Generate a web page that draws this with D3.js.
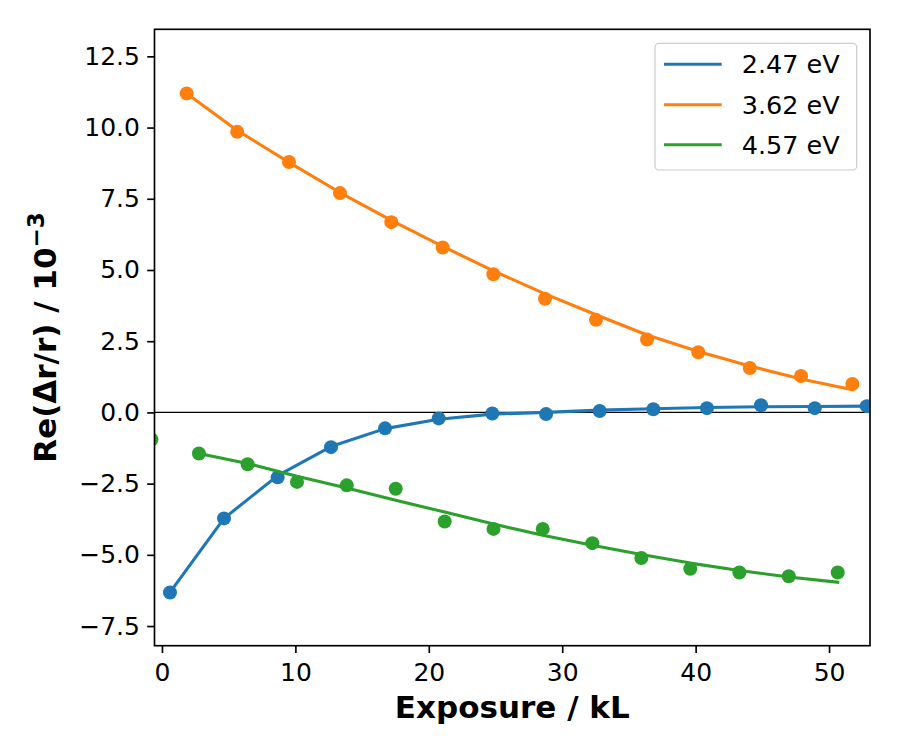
<!DOCTYPE html>
<html>
<head>
<meta charset="utf-8">
<script src="https://cdn.jsdelivr.net/npm/d3@7"></script>
<style>
  body { margin: 0; background: #fff; }
  svg { font-family: "DejaVu Sans", sans-serif; }
</style>
</head>
<body>
<svg id="chart" width="900" height="750"></svg>
<script>
// ---- data ----
const seriesLabels = ["2.47 eV", "3.62 eV", "4.57 eV"];
const seriesColors = ["#1f77b4", "#ff7f0e", "#2ca02c"];

const blueX = [0.6, 4.65, 8.67, 12.67, 16.72, 20.74, 24.76, 28.79, 32.81, 36.83, 40.85, 44.9, 48.93, 52.83];
const blueY = [-6.32, -3.72, -2.28, -1.22, -0.56, -0.21, -0.04, -0.06, 0.05, 0.11, 0.15, 0.25, 0.15, 0.22];
const blueFit = [-6.32, -3.72, -2.22, -1.2, -0.57, -0.24, -0.06, 0.0, 0.08, 0.13, 0.17, 0.2, 0.21, 0.22];

const orangeX = [1.85, 5.64, 9.52, 13.34, 17.19, 21.04, 24.84, 28.71, 32.53, 36.36, 40.2, 44.06, 47.9, 51.75];
const orangeY = [11.2, 9.85, 8.79, 7.7, 6.68, 5.79, 4.85, 3.99, 3.25, 2.56, 2.11, 1.56, 1.28, 1.0];
const orangeFit = [11.2, 9.9, 8.78, 7.72, 6.74, 5.83, 4.97, 4.16, 3.43, 2.72, 2.14, 1.63, 1.17, 0.8];

const greenX = [-0.79, 2.77, 6.42, 10.12, 13.85, 17.52, 21.19, 24.85, 28.54, 32.26, 35.93, 39.6, 43.28, 46.98, 50.65];
const greenY = [-0.95, -1.44, -1.82, -2.44, -2.56, -2.68, -3.83, -4.09, -4.09, -4.59, -5.11, -5.49, -5.62, -5.75, -5.62];
const greenFitX = [2.77, 6.42, 10.12, 13.85, 17.52, 21.19, 24.85, 28.54, 32.26, 35.93, 39.6, 43.28, 46.98, 50.65];
const greenFit = [-1.44, -1.79, -2.24, -2.65, -3.08, -3.5, -3.92, -4.31, -4.66, -4.99, -5.29, -5.55, -5.78, -5.96];

const xTicks = [0, 10, 20, 30, 40, 50];
const yTicks = [-7.5, -5.0, -2.5, 0.0, 2.5, 5.0, 7.5, 10.0, 12.5];
const xDomain = [-0.56, 53.07];
const yDomain = [-8.19, 13.45];

// ---- layout ----
const L = 154.5, R = 870, T = 29.3, B = 645.7;
const svg = d3.select("#chart");
const x = d3.scaleLinear().domain(xDomain).range([L, R]);
const y = d3.scaleLinear().domain(yDomain).range([B, T]);

svg.append("defs").append("clipPath").attr("id", "clip")
  .append("rect").attr("x", L).attr("y", T).attr("width", R - L).attr("height", B - T);

const plot = svg.append("g").attr("clip-path", "url(#clip)");

// zero line
plot.append("line")
  .attr("x1", L).attr("x2", R).attr("y1", y(0)).attr("y2", y(0))
  .attr("stroke", "#000").attr("stroke-width", 1.1);

const series = [
  { px: blueX, py: blueY, fx: blueX, fy: blueFit },
  { px: orangeX, py: orangeY, fx: orangeX, fy: orangeFit },
  { px: greenX, py: greenY, fx: greenFitX, fy: greenFit }
];

const line = d3.line().x(d => x(d[0])).y(d => y(d[1]));
series.forEach((s, i) => {
  const pts = s.px.map((v, j) => [v, s.py[j]]);
  plot.append("g").selectAll("circle").data(pts).join("circle")
    .attr("cx", d => x(d[0])).attr("cy", d => y(d[1])).attr("r", 7)
    .attr("fill", seriesColors[i]);
  const fit = s.fx.map((v, j) => [v, s.fy[j]]);
  plot.append("path").datum(fit).attr("d", line)
    .attr("fill", "none").attr("stroke", seriesColors[i])
    .attr("stroke-width", 3.1).attr("stroke-linejoin", "round").attr("stroke-linecap", "square");
});

// axes
const fmtY = d => (d < 0 ? "\u2212" : "") + Math.abs(d).toFixed(1);
const xAxis = d3.axisBottom(x).tickValues(xTicks).tickFormat(d3.format("d")).tickSizeOuter(0).tickSize(7.3).tickPadding(10);
const yAxis = d3.axisLeft(y).tickValues(yTicks).tickFormat(fmtY).tickSizeOuter(0).tickSize(7.3).tickPadding(7.3);

const gx = svg.append("g").attr("transform", `translate(0,${B})`).call(xAxis);
const gy = svg.append("g").attr("transform", `translate(${L},0)`).call(yAxis);
[gx, gy].forEach(g => {
  g.select(".domain").remove();
  g.selectAll(".tick line").attr("stroke", "#000").attr("stroke-width", 1.67);
  g.selectAll(".tick text").attr("font-family", "DejaVu Sans").attr("font-size", 25).attr("fill", "#000");
});

// frame
svg.append("rect").attr("x", L).attr("y", T).attr("width", R - L).attr("height", B - T)
  .attr("fill", "none").attr("stroke", "#000").attr("stroke-width", 1.67);

// axis labels
svg.append("text").attr("x", (L + R) / 2).attr("y", 718)
  .attr("text-anchor", "middle").attr("font-size", 31).attr("font-weight", "bold")
  .text("Exposure / kL");

const yl = svg.append("text")
  .attr("transform", `translate(56,${(T + B) / 2}) rotate(-90)`)
  .attr("text-anchor", "middle").attr("font-size", 31).attr("font-weight", "bold");
yl.append("tspan").text("Re(\u0394r/r) / 10");
yl.append("tspan").attr("dy", -12).attr("font-size", 23).text("\u22123");

// legend
const lg = svg.append("g");
lg.append("rect").attr("x", 655).attr("y", 43.3).attr("width", 201.7).attr("height", 126.7)
  .attr("rx", 4).attr("fill", "#fff").attr("fill-opacity", 0.8)
  .attr("stroke", "#cccccc").attr("stroke-width", 1.2);
const legY = [64.3, 104.7, 144.7];
seriesLabels.forEach((lab, i) => {
  lg.append("line").attr("x1", 664).attr("x2", 721.7).attr("y1", legY[i]).attr("y2", legY[i])
    .attr("stroke", seriesColors[i]).attr("stroke-width", 3.1);
  lg.append("text").attr("x", 741.7).attr("y", legY[i] + 9)
    .attr("font-size", 25.5).attr("fill", "#000").text(lab);
});
</script>
</body>
</html>
